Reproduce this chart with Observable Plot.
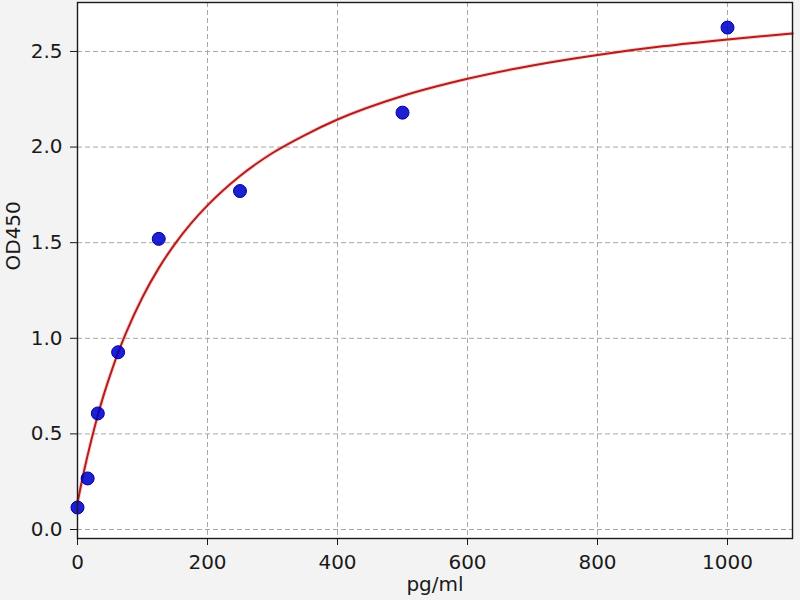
<!DOCTYPE html>
<html><head><meta charset="utf-8">
<script src="https://cdn.jsdelivr.net/npm/d3@7"></script>
<script src="https://cdn.jsdelivr.net/npm/@observablehq/plot@0.6"></script>
<style>
body{margin:0;background:#ffffff}
#chart svg{display:block;background:#f3f3f3}
</style>
</head><body><div id="chart"></div>
<script>
// Standard points
const concentrations = [0, 15.625, 31.25, 62.5, 125, 250, 500, 1000];
const odValues = [0.115, 0.267, 0.607, 0.927, 1.52, 1.77, 2.18, 2.625];
// Fitted curve
const curveX = [0, 5, 10, 15, 20, 30, 40, 50, 62.5, 75, 100, 125, 150, 175, 200, 250, 300, 350, 400, 500, 600, 700, 800, 900, 1000, 1100];
const curveY = [0.14, 0.225, 0.305, 0.38, 0.45, 0.582, 0.70, 0.805, 0.925, 1.031, 1.215, 1.367, 1.494, 1.602, 1.695, 1.849, 1.969, 2.063, 2.144, 2.267, 2.357, 2.427, 2.482, 2.527, 2.563, 2.594];
const xTicks = [0, 200, 400, 600, 800, 1000];
const yTicks = [0, 0.5, 1.0, 1.5, 2.0, 2.5];
const xLabel = "pg/ml";
const yLabel = "OD450";

const points = concentrations.map((x, i) => ({x, y: odValues[i]}));
const curve = curveX.map((x, i) => ({x, y: curveY[i]}));

const fs = 20;
const chart = Plot.plot({
  width: 800,
  height: 600,
  marginLeft: 77,
  marginRight: 8,
  marginTop: 2,
  marginBottom: 62,
  style: {fontFamily: "DejaVu Sans", fontSize: fs + "px", color: "#1a1a1a"},
  x: {domain: [0, 1100]},
  y: {domain: [-0.047, 2.756]},
  marks: [
    Plot.frame({fill: "white", stroke: null}),
    Plot.gridX(xTicks, {stroke: "#a8a8a8", strokeOpacity: 1, strokeDasharray: "5,3", strokeWidth: 1}),
    Plot.gridY(yTicks, {stroke: "#a8a8a8", strokeOpacity: 1, strokeDasharray: "5,3", strokeWidth: 1}),
    Plot.axisX(xTicks, {label: null, tickSize: 7, tickPadding: 9, tickFormat: d3.format("d"), fontSize: fs, stroke: "#1a1a1a", fill: "#1a1a1a"}),
    Plot.axisY(yTicks, {label: null, tickSize: 7, tickPadding: 8, tickFormat: d3.format(".1f"), fontSize: fs, stroke: "#1a1a1a", fill: "#1a1a1a"}),
    Plot.line(curve, {x: "x", y: "y", stroke: "#ff8080", strokeWidth: 4, strokeOpacity: 0.35, curve: "monotone-x"}),
    Plot.line(curve, {x: "x", y: "y", stroke: "#b01e1e", strokeWidth: 2, curve: "monotone-x"}),
    Plot.dot(points, {x: "x", y: "y", r: 6.5, fill: "#0000cc", fillOpacity: 0.88, stroke: "#0000a0", strokeWidth: 1}),
    Plot.frame({stroke: "#1a1a1a", strokeWidth: 1.4}),
    Plot.text([xLabel], {frameAnchor: "bottom", dy: 52, fontSize: fs, fill: "#1a1a1a"}),
    Plot.text([yLabel], {frameAnchor: "left", dx: -64, rotate: -90, fontSize: fs, fill: "#1a1a1a"})
  ]
});
document.getElementById("chart").append(chart);
</script>
</body></html>
